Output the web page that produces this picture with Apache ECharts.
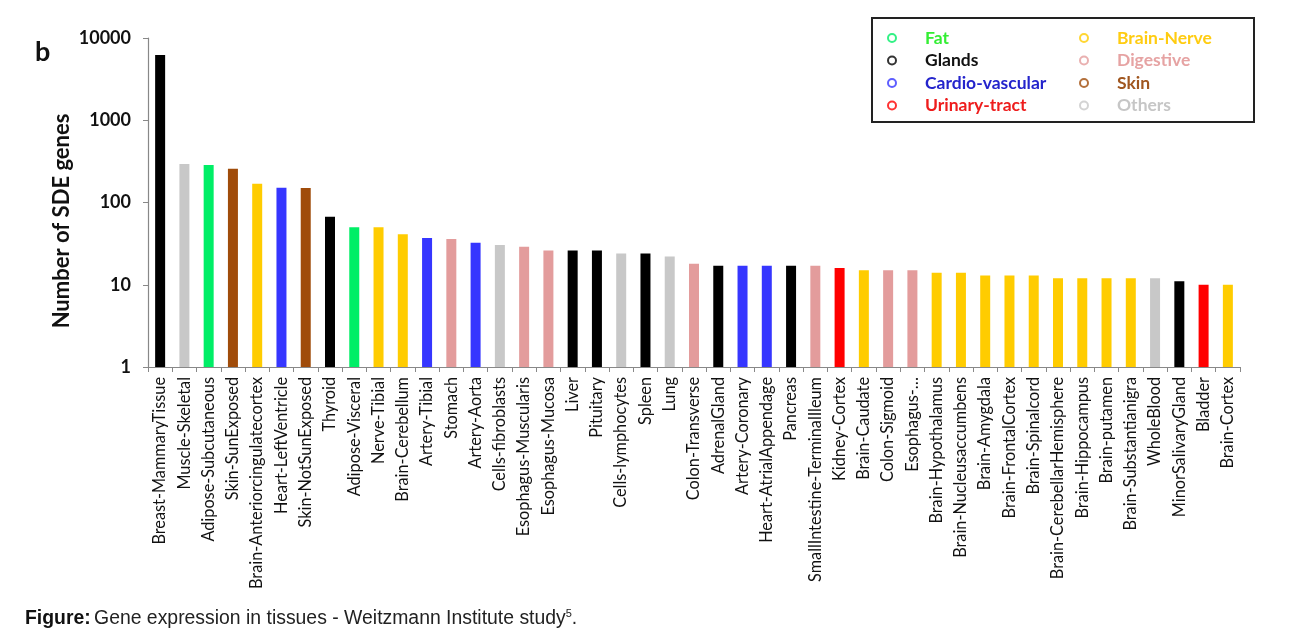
<!DOCTYPE html>
<html><head><meta charset="utf-8">
<script src="https://cdn.jsdelivr.net/npm/echarts@6/dist/echarts.min.js"></script>
<style>html,body{margin:0;padding:0;background:#fff}#c{width:1308px;height:643px}</style>
</head><body><div id="c"></div>
<script>
const categories = ["Breast-MammaryTissue","Muscle-Skeletal","Adipose-Subcutaneous","Skin-SunExposed","Brain-Anteriorcingulatecortex","Heart-LeftVentricle","Skin-NotSunExposed","Thyroid","Adipose-Visceral","Nerve-Tibial","Brain-Cerebellum","Artery-Tibial","Stomach","Artery-Aorta","Cells-fibroblasts","Esophagus-Muscularis","Esophagus-Mucosa","Liver","Pituitary","Cells-lymphocytes","Spleen","Lung","Colon-Transverse","AdrenalGland","Artery-Coronary","Heart-AtrialAppendage","Pancreas","SmallIntestine-TerminalIleum","Kidney-Cortex","Brain-Caudate","Colon-Sigmoid","Esophagus-…","Brain-Hypothalamus","Brain-Nucleusaccumbens","Brain-Amygdala","Brain-FrontalCortex","Brain-Spinalcord","Brain-CerebellarHemisphere","Brain-Hippocampus","Brain-putamen","Brain-Substantianigra","WholeBlood","MinorSalivaryGland","Bladder","Brain-Cortex"];
const sdeGenes = [6200,293,285,257,169,151,150,67,50,50,41,37,36,32.5,30.5,29,26,26,26,24,24,22,18,17,17,17,17,17,16,15,15,15,14,14,13,13,13,12,12,12,12,12,11,10,10];
const tissueGroup = ["Glands","Others","Fat","Skin","Brain-Nerve","Cardio-vascular","Skin","Glands","Fat","Brain-Nerve","Brain-Nerve","Cardio-vascular","Digestive","Cardio-vascular","Others","Digestive","Digestive","Glands","Glands","Others","Glands","Others","Digestive","Glands","Cardio-vascular","Cardio-vascular","Glands","Digestive","Urinary-tract","Brain-Nerve","Digestive","Digestive","Brain-Nerve","Brain-Nerve","Brain-Nerve","Brain-Nerve","Brain-Nerve","Brain-Nerve","Brain-Nerve","Brain-Nerve","Brain-Nerve","Others","Glands","Urinary-tract","Brain-Nerve"];
const groups = ["Fat","Glands","Cardio-vascular","Urinary-tract","Brain-Nerve","Digestive","Skin","Others"];
const yTicks = [1,10,100,1000,10000];

const barColor = {"Fat":"#00ee66","Glands":"#000000","Cardio-vascular":"#3636ff","Urinary-tract":"#ff0000","Brain-Nerve":"#ffcc00","Digestive":"#e39c9c","Skin":"#a04c0a","Others":"#c8c8c8"};
const legendColor = {"Fat":"#33ee33","Glands":"#111111","Cardio-vascular":"#2424cc","Urinary-tract":"#ee1c1c","Brain-Nerve":"#ffcc11","Digestive":"#e6a3a3","Skin":"#a0561f","Others":"#c6c6c6"};

const chart = echarts.init(document.getElementById('c'), null, {renderer:'canvas'});
const FONT = 'Lato, "Open Sans", sans-serif';
const CAPFONT = '"Liberation Sans", Arial, sans-serif';

const legendSeries = groups.map(g => ({
  name: g, type: 'scatter', data: [], symbol: 'circle',
  itemStyle: {color: '#ffffff', borderColor: barColor[g], borderWidth: 1}
}));
function legendFor(list, left){
  return {
    orient:'vertical', left: left, top: 24, itemWidth: 56, itemHeight: 8, itemGap: 4.5,
    selectedMode:false, icon:'circle',
    data: list.map(g => ({name:g, textStyle:{color:legendColor[g], fontWeight:'bold', fontSize:17.5, fontFamily:FONT}}))
  };
}

chart.setOption({
  animation:false,
  backgroundColor:'#fff',
  grid:{left:148, right:68, top:38, bottom:276, containLabel:false},
  legend:[legendFor(groups.slice(0,4), 882), legendFor(groups.slice(4), 1074)],
  graphic:[
    {type:'rect', shape:{x:872, y:18, width:382, height:104}, style:{fill:'none', stroke:'#222', lineWidth:2}, z:-1},
    {type:'text', left:35, top:39, style:{text:'b', font:'bold 27px '+FONT, fill:'#111'}},
    {type:'text', x:62, y:221, rotation:Math.PI/2, style:{text:'Number of SDE genes', font:'bold 22px '+FONT, fill:'#111', align:'center', verticalAlign:'middle'}},
    {type:'text', left:25, top:608, style:{
      text:'{b|Figure:} {n|Gene expression in tissues - Weitzmann Institute study}{s|5}{n|.}',
      rich:{
        b:{fontFamily:CAPFONT, fontWeight:'bold', fontSize:19.4, fill:'#111', verticalAlign:'bottom'},
        n:{fontFamily:CAPFONT, fontSize:19.4, fill:'#222', verticalAlign:'bottom'},
        s:{fontFamily:CAPFONT, fontSize:11, fill:'#222', padding:[0,0,9,0], verticalAlign:'bottom'}
      }}}
  ],
  xAxis:{
    type:'category', data:categories, boundaryGap:true,
    axisLine:{lineStyle:{color:'#888', width:1.2}},
    axisTick:{show:true, alignWithLabel:false, length:5, lineStyle:{color:'#888'}},
    axisLabel:{rotate:90, interval:0, fontSize:16.3, color:'#111', fontFamily:FONT, margin:10}
  },
  yAxis:{
    type:'log', logBase:10, min:1, max:10000,
    axisLine:{show:true, lineStyle:{color:'#888', width:1.2}},
    axisTick:{show:true, length:5, lineStyle:{color:'#888'}},
    splitLine:{show:false},
    axisLabel:{fontSize:18, fontWeight:'bold', color:'#111', fontFamily:FONT, margin:17,
      formatter: v => String(Math.round(v))}
  },
  series:[{
    type:'bar', name:'SDE', barWidth:10,
    data: sdeGenes.map((v,i) => ({value:v, itemStyle:{color:barColor[tissueGroup[i]]}}))
  }].concat(legendSeries)
});
</script></body></html>
